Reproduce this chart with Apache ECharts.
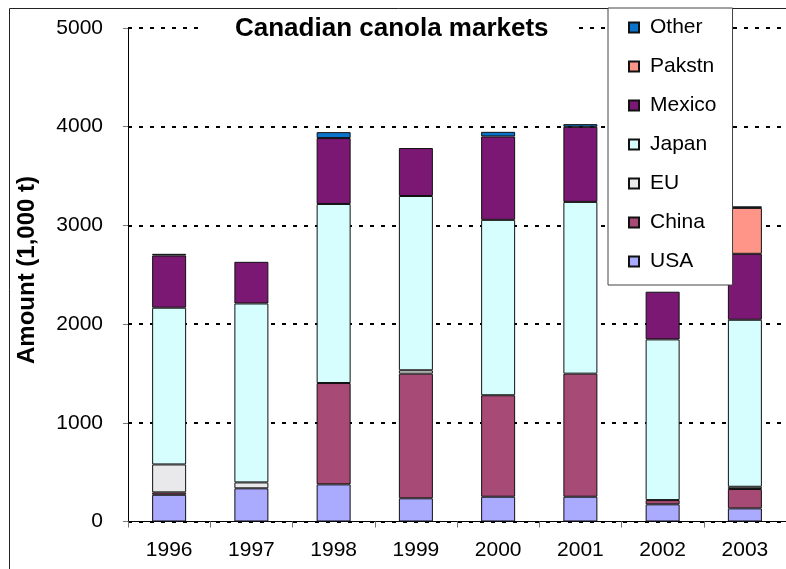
<!DOCTYPE html>
<html>
<head>
<meta charset="utf-8">
<script src="https://cdn.jsdelivr.net/npm/echarts@6/dist/echarts.min.js"></script>
<style>
  html, body { margin: 0; padding: 0; background: #fff; }
  #chart { width: 786px; height: 569px; }
</style>
</head>
<body>
<div id="chart"></div>
<script>
// categories and values (1,000 t)
var years = ['1996', '1997', '1998', '1999', '2000', '2001', '2002', '2003'];
var usa = [271, 336, 376, 235, 251, 251, 174, 133];
var china = [24, 0, 1027, 1263, 1028, 1247, 43, 196];
var eu = [283, 60, 0, 34, 0, 0, 0, 23];
var japan = [1588, 1813, 1814, 1766, 1777, 1740, 1628, 1692];
var mexico = [529, 422, 668, 486, 845, 761, 483, 668];
var pakstn = [0, 0, 0, 0, 0, 0, 0, 465];
var other = [17, 0, 60, 0, 47, 27, 0, 16];
var yTicks = [0, 1000, 2000, 3000, 4000, 5000];

var font = 'Liberation Sans, Arial, sans-serif';

var seriesDefs = [
    { name: 'USA', data: usa, color: '#AAAAFF' },
    { name: 'China', data: china, color: '#A84A76' },
    { name: 'EU', data: eu, color: '#E9E9EC' },
    { name: 'Japan', data: japan, color: '#D6FEFE' },
    { name: 'Mexico', data: mexico, color: '#7A1873' },
    { name: 'Pakstn', data: pakstn, color: '#FF9589' },
    { name: 'Other', data: other, color: '#0A74CC' }
];

var chart = echarts.init(document.getElementById('chart'));

let series = [];
seriesDefs.forEach(function (s) {
    series.push({
        name: s.name,
        type: 'bar',
        stack: 'total',
        barWidth: 34,
        // zero segments are left out so they don't draw a border line
        data: s.data.map(function (v) { return v === 0 ? '-' : v; }),
        itemStyle: {
            color: s.color,
            borderColor: '#111',
            borderWidth: 1
        }
    });
});

let options = {
    animation: false,
    backgroundColor: '#fff',
    title: {
        text: 'Canadian canola markets',
        left: 205,
        top: 14,
        padding: [2, 30, 2, 30],
        backgroundColor: '#fff',
        textStyle: {
            fontFamily: font,
            fontSize: 26,
            fontWeight: 'bold',
            color: '#000'
        }
    },
    legend: {
        orient: 'vertical',
        left: 608,
        top: 8,
        padding: [9, 16, 13, 20],
        icon: 'rect',
        itemWidth: 10,
        itemHeight: 10,
        itemGap: 18,
        backgroundColor: '#fff',
        borderColor: '#444',
        borderWidth: 1,
        data: ['Other', 'Pakstn', 'Mexico', 'Japan', 'EU', 'China', 'USA'],
        textStyle: {
            fontFamily: font,
            fontSize: 21,
            lineHeight: 21,
            padding: [0, 0, 0, 6],
            color: '#000'
        }
    },
    graphic: [
        {
            type: 'rect',
            left: 7,
            top: 6,
            shape: { width: 800, height: 600 },
            style: { fill: 'none', stroke: '#222', lineWidth: 1 },
            silent: true,
            z: -1
        },
        {
            type: 'text',
            x: 27,
            y: 270,
            rotation: Math.PI / 2,
            style: {
                text: 'Amount (1,000 t)',
                font: 'bold 24px ' + font,
                fill: '#000',
                textAlign: 'center',
                textVerticalAlign: 'middle'
            }
        }
    ],
    grid: {
        left: 128,
        top: 28,
        width: 668,
        height: 493.5
    },
    xAxis: {
        type: 'category',
        data: years,
        axisLine: { show: true, lineStyle: { color: '#000', width: 1 } },
        axisTick: { show: true, length: 6, lineStyle: { color: '#777' } },
        axisLabel: {
            margin: 18,
            fontFamily: font,
            fontSize: 21,
            color: '#000'
        }
    },
    yAxis: {
        type: 'value',
        min: yTicks[0],
        max: yTicks[yTicks.length - 1],
        interval: 1000,
        axisLine: { show: true, lineStyle: { color: '#000', width: 1 } },
        axisTick: { show: true, length: 5, lineStyle: { color: '#777' } },
        splitLine: {
            show: true,
            lineStyle: { color: '#000', width: 2, type: [4, 7] }
        },
        axisLabel: {
            margin: 25,
            fontFamily: font,
            fontSize: 21,
            color: '#000',
            formatter: function (v) { return String(v); }
        }
    },
    series: series
};

chart.setOption(options);
</script>
</body>
</html>
